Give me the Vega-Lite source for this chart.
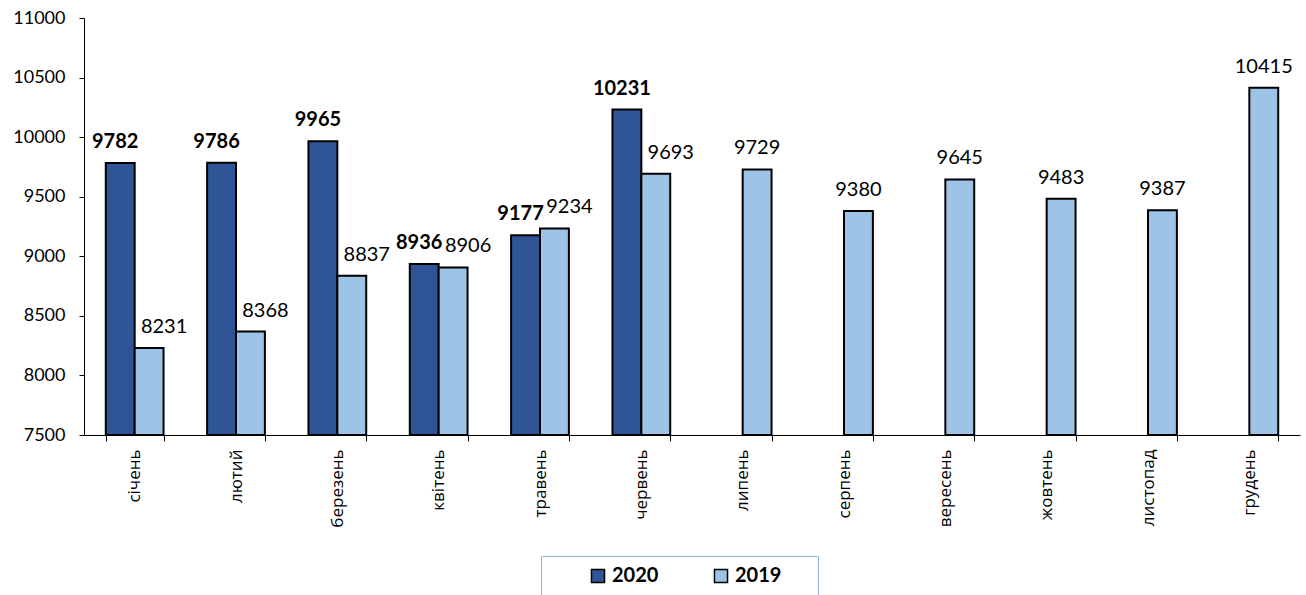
{
  "$schema": "https://vega.github.io/schema/vega-lite/v6.json",
  "width": 1216,
  "height": 417,
  "autosize": {"type": "none"},
  "padding": {"left": 84, "top": 18, "right": 6, "bottom": 160},
  "background": "white",
  "config": {
    "view": {"stroke": null},
    "font": "Lato",
    "axis": {"labelFont": "Lato", "labelColor": "black", "labelFontSize": 17, "domainColor": "black", "tickColor": "black", "grid": false, "title": null}
  },
  "data": {
    "values": [
      {"month": "січень", "year": "2020", "value": 9782},
      {"month": "січень", "year": "2019", "value": 8231},
      {"month": "лютий", "year": "2020", "value": 9786},
      {"month": "лютий", "year": "2019", "value": 8368},
      {"month": "березень", "year": "2020", "value": 9965},
      {"month": "березень", "year": "2019", "value": 8837},
      {"month": "квітень", "year": "2020", "value": 8936},
      {"month": "квітень", "year": "2019", "value": 8906},
      {"month": "травень", "year": "2020", "value": 9177},
      {"month": "травень", "year": "2019", "value": 9234},
      {"month": "червень", "year": "2020", "value": 10231},
      {"month": "червень", "year": "2019", "value": 9693},
      {"month": "липень", "year": "2019", "value": 9729},
      {"month": "серпень", "year": "2019", "value": 9380},
      {"month": "вересень", "year": "2019", "value": 9645},
      {"month": "жовтень", "year": "2019", "value": 9483},
      {"month": "листопад", "year": "2019", "value": 9387},
      {"month": "грудень", "year": "2019", "value": 10415}
    ]
  },
  "transform": [{"joinaggregate": [{"op": "count", "as": "n"}], "groupby": ["month"]}],
  "encoding": {
    "x": {
      "field": "month", "type": "nominal", "sort": null,
      "scale": {"domain": ["січень", "лютий", "березень", "квітень", "травень", "червень", "липень", "серпень", "вересень", "жовтень", "листопад", "грудень"], "paddingInner": 0.43, "paddingOuter": 0.215},
      "axis": {"labelAngle": -90, "tickBand": "extent", "tickSize": 6, "labelPadding": 8, "domainWidth": 1, "labelFont": "Open Sans", "labelFontSize": 17}
    },
    "xOffset": {"field": "year", "type": "nominal", "scale": {"domain": ["2020", "2019"], "paddingInner": 0, "paddingOuter": 0}},
    "y": {
      "field": "value", "type": "quantitative",
      "scale": {"domain": [7500, 11000], "nice": false, "zero": false},
      "axis": {"values": [7500, 8000, 8500, 9000, 9500, 10000, 10500, 11000], "format": "d", "tickSize": 5, "labelPadding": 14, "domainWidth": 1, "labelFontSize": 18}
    }
  },
  "layer": [
    {
      "mark": {"type": "bar", "stroke": "black", "strokeWidth": 2},
      "encoding": {
        "y2": {"datum": 7500},
        "fill": {
          "field": "year", "type": "nominal",
          "scale": {"domain": ["2020", "2019"], "range": ["#2F5597", "#9DC3E6"]},
          "legend": {
            "orient": "none", "legendX": 457, "legendY": 538, "direction": "horizontal",
            "title": " ", "titleOrient": "left", "titlePadding": 37,
            "strokeColor": "#8eb4e3", "padding": 10, "fillColor": "white",
            "symbolType": "square", "symbolSize": 170, "symbolStrokeColor": "black", "symbolStrokeWidth": 1.5,
            "labelFontSize": 20, "labelFontWeight": "bold", "labelColor": "black", "labelFont": "Lato",
            "columnPadding": 52, "labelOffset": 4, "labelLimit": 400,
            "labelExpr": "datum.label == '2019' ? datum.label + '\u2007\u2007\u2009\u200b' : datum.label"
          }
        }
      }
    },
    {
      "transform": [{"filter": "datum.year == '2020'"}],
      "mark": {"type": "text", "baseline": "alphabetic", "dy": -15, "dx": -5, "fontSize": 20, "fontWeight": "bold", "color": "black"},
      "encoding": {"text": {"field": "value", "type": "quantitative", "format": "d"}}
    },
    {
      "transform": [{"filter": "datum.year == '2019' && datum.n == 2"}],
      "mark": {"type": "text", "baseline": "alphabetic", "dy": -15, "dx": 15, "fontSize": 20, "color": "black"},
      "encoding": {"text": {"field": "value", "type": "quantitative", "format": "d"}}
    },
    {
      "transform": [{"filter": "datum.year == '2019' && datum.n == 1"}],
      "mark": {"type": "text", "baseline": "alphabetic", "dy": -15, "fontSize": 20, "color": "black"},
      "encoding": {"text": {"field": "value", "type": "quantitative", "format": "d"}}
    }
  ]
}
